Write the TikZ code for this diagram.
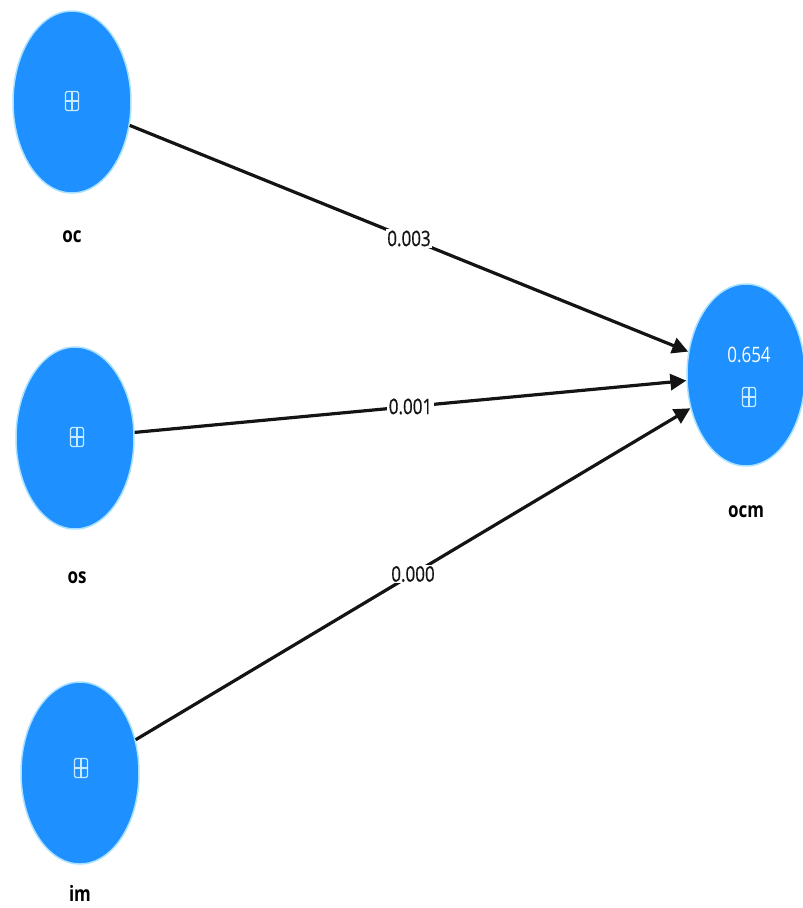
\documentclass[tikz,border=0pt]{standalone}
\usepackage{fontspec}
\setmainfont{Open Sans}
\newfontfamily\numfont[FakeBold=0.8]{Open Sans}
\usetikzlibrary{shapes.geometric,arrows.meta}
\definecolor{lvblue}{RGB}{30,144,255}
\definecolor{lvglow}{RGB}{170,225,255}
\definecolor{iconline}{RGB}{200,235,255}
\definecolor{pathcol}{RGB}{20,20,20}
\newcommand\tallbox[1]{\scalebox{1}[1.25]{#1}}
\tikzset{
  latent/.style={ellipse, fill=lvblue, draw=lvglow, line width=1.5pt,
    minimum width=118pt, minimum height=182pt, inner sep=0pt},
  varname/.style={font=\fontsize{17}{20}\selectfont\bfseries, text=black, inner sep=0pt},
  weight/.style={font=\fontsize{17}{20}\selectfont\numfont, fill=white, text=pathcol, inner sep=1.5pt},
  rsq/.style={font=\fontsize{17}{20}\selectfont, text=white, inner sep=0pt},
  pathline/.style={draw=pathcol, line width=3.2pt,
    -{Triangle[length=16pt,width=16pt]}},
  plusicon/.pic={
    \draw[iconline, line width=1.3pt, rounded corners=1.5pt] (-6.5,-9.5) rectangle (6.5,9.5);
    \draw[iconline, line width=1.3pt] (0,-9.5) -- (0,9.5) (-6.5,0) -- (6.5,0);
  }
}
\begin{document}
\begin{tikzpicture}[x=1pt,y=-1pt]
\useasboundingbox (0,0) rectangle (803,908);

% latent variables
\node[latent] (oc)  at (72,102)  {};
\node[latent] (os)  at (75,438)  {};
\node[latent] (im)  at (80,773)  {};
\node[latent] (ocm) at (746,375) {};

% indicator icons
\pic at (72,101)  {plusicon};
\pic at (77,437)  {plusicon};
\pic at (81,768)  {plusicon};
\pic at (749,397) {plusicon};

% R-squared of the endogenous construct
\node[rsq] (r2) at (749,355) {\tallbox{0.654}};

% variable names
\node[varname] (ocname)  at (72,237)  {\tallbox{oc}};
\node[varname] (osname)  at (77,578)  {\tallbox{os}};
\node[varname] (imname)  at (80,893)  {\tallbox{im}};
\node[varname] (ocmname) at (746,512) {\tallbox{ocm}};

% structural paths with coefficients
\draw[pathline] (oc) -- node[weight] {\tallbox{0.003}} (ocm);
\draw[pathline] (os) -- node[weight] {\tallbox{0.001}} (ocm);
\draw[pathline] (im) -- node[weight] {\tallbox{0.000}} (ocm);
\end{tikzpicture}
\end{document}
